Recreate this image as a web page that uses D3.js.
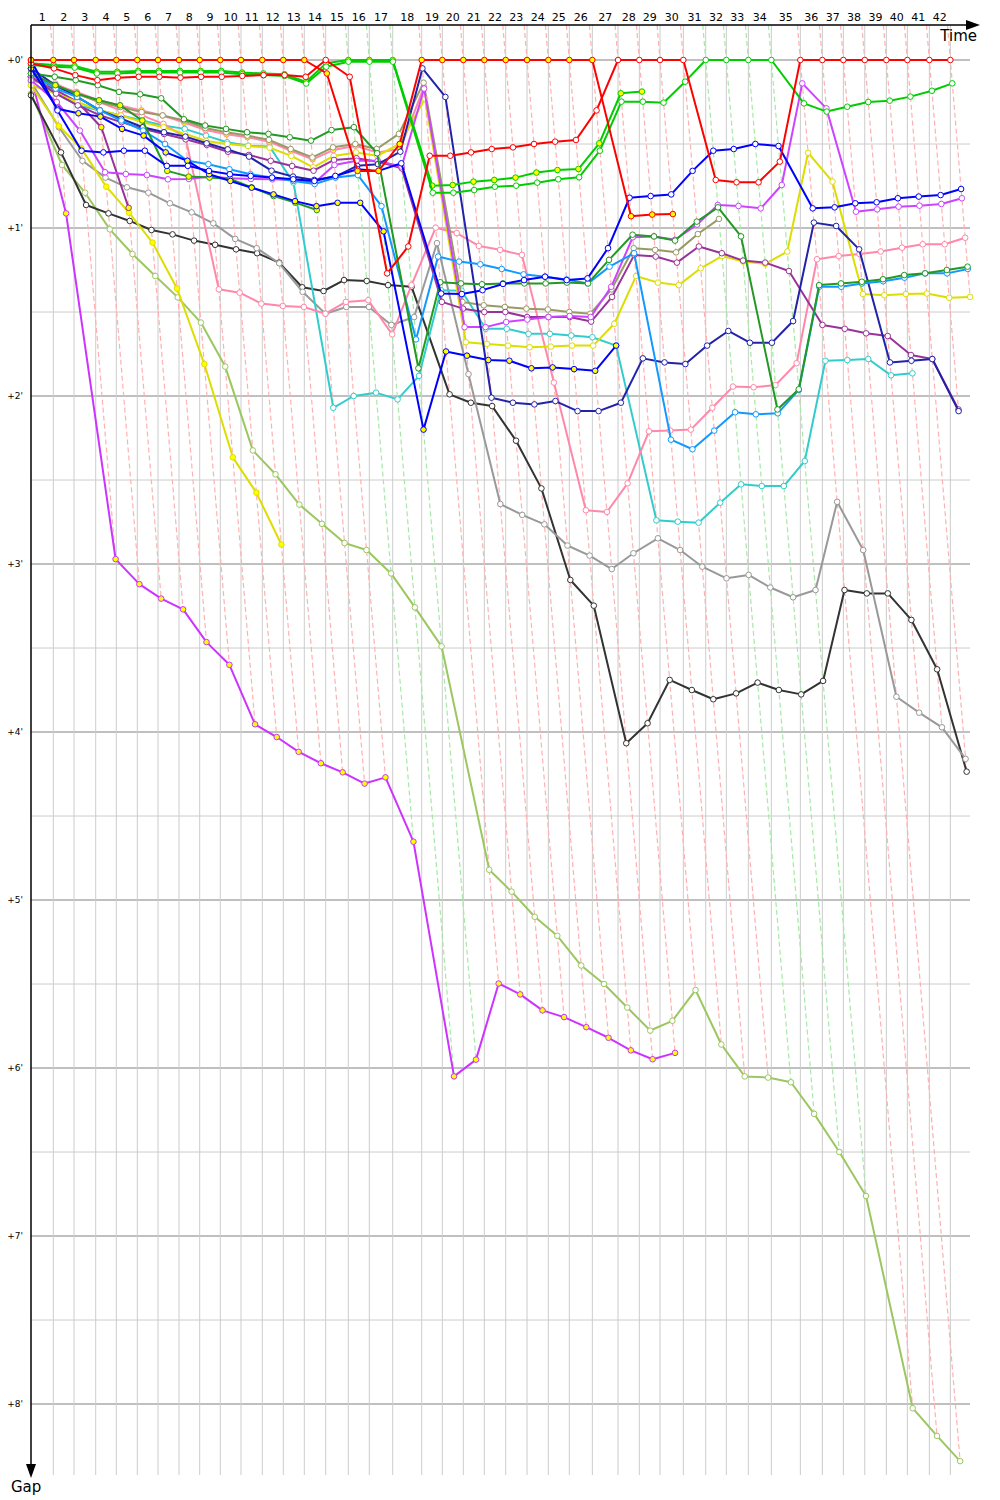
<!DOCTYPE html>
<html>
<head>
<meta charset="utf-8">
<script src="https://cdn.jsdelivr.net/npm/d3@7"></script>
<style>body{margin:0;background:#fff}</style>
</head>
<body>
<div id="viz"></div>
<script>
// leader lap durations in seconds (lap 1..42)
const lapSec = [95.6, 88.7, 93.0, 88.3, 90.0, 88.7, 90.0, 88.7, 88.3, 88.7, 91.3, 90.0, 90.0, 91.7,
  96.9, 90.0, 100.3, 124.3, 88.3, 90.0, 90.0, 91.7, 91.3, 91.3, 90.0, 98.6, 110.1, 91.3, 88.7,
  99.9, 96.0, 88.3, 94.3, 98.6, 124.3, 94.3, 90.0, 91.7, 92.6, 90.0, 94.3, 90.0];

const gapTicks = [0, 1, 2, 3, 4, 5, 6, 7, 8];

// gap to leader in minutes, index = lap (0 = start)
const redA = [0, 0,0,0,0,0,0,0,0,0,0,0,0,0, 0.08, 0.66,0.66,0.5, 0,0,0,0,0,0,0,0,0, 0.93,0.92,0.917];
const redB = [0.02, 0.05,0.09,0.12,0.105,0.1,0.1,0.105,0.1,0.1,0.095,0.09,0.09,0.1, 0, 0.1,1.27,1.11,
  0.57,0.57,0.55,0.53,0.52,0.50,0.486,0.476,0.30, 0,0,0,0, 0.714,0.728,0.728,0.605, 0,0,0,0,0,0,0,0];
const greenA = [0.02, 0.03,0.035,0.07,0.07,0.065,0.065,0.065,0.065,0.065,0.075,0.08,0.085,0.13, 0.02, 0,0,0,
  0.748,0.744,0.724,0.714,0.70,0.67,0.655,0.649,0.496, 0.198,0.188];
const greenB = [0.03, 0.04,0.045,0.08,0.08,0.075,0.075,0.075,0.075,0.075,0.085,0.09,0.095,0.14, 0.04, 0.01,0.01,0.01,
  0.79,0.79,0.774,0.754,0.748,0.73,0.71,0.698,0.54, 0.248,0.248,0.254,0.129, 0,0,0,0,
  0.258,0.307,0.278,0.25,0.242,0.218,0.183,0.139];
const darkGreenW = [0.08, 0.1,0.12,0.15,0.19,0.204,0.228,0.353,0.39,0.41,0.43,0.44,0.46,0.48, 0.417, 0.40,0.555,1.835,
  1.323,1.33,1.335,1.33,1.33,1.33,1.325,1.33,1.19, 1.04,1.05,1.075,0.962, 0.877,1.05,2.08,1.96,
  1.34,1.33,1.32,1.305,1.28,1.27,1.25,1.23];
const darkGreenY = [0.08, 0.15,0.2,0.24,0.27,0.36,0.66,0.694,0.7,0.708,0.758,0.81,0.849,0.893];
const blueW = [0, 0.3,0.54,0.55,0.54,0.54,0.63,0.63,0.66,0.68,0.69,0.70,0.71,0.72, 0.69, 0.65,0.66,0.615,
  1.39,1.393,1.37,1.333,1.31,1.29,1.31,1.30,1.12, 0.82,0.81,0.80,0.66, 0.54,0.53,0.50,0.512,
  0.883,0.877,0.853,0.847,0.823,0.813,0.804,0.768];
const blueY = [0.05, 0.29,0.317,0.337,0.41,0.45,0.55,0.6,0.68,0.72,0.76,0.8,0.84,0.87, 0.85, 0.85,1.02,2.2,
  1.735,1.76,1.786,1.79,1.835,1.83,1.84,1.85,1.70];
const navy = [0.05, 0.15,0.22,0.3,0.35,0.4,0.43,0.456,0.496,0.532,0.575,0.659,0.694,0.714, 0.694, 0.63,0.62,0.546,
  0.05,0.22,2.01,2.04,2.05,2.03,2.09,2.09,2.04, 1.776,1.8,1.81,1.70, 1.613,1.683,1.683,1.554,
  0.968,0.988,1.127,1.8,1.79,1.78,2.09];
const dodger = [0.08, 0.17,0.22,0.3,0.36,0.42,0.5,0.6,0.62,0.65,0.68,0.7,0.72,0.738, 0.7, 0.685,0.87,1.663,
  1.17,1.2,1.216,1.244,1.276,1.29,1.306,1.33,1.23, 1.15,2.26,2.317,2.206, 2.097,2.109,2.103,1.964,
  1.35,1.35,1.33,1.317,1.296,1.27,1.27,1.244];
const cyan = [0.1, 0.2,0.27,0.3,0.33,0.36,0.39,0.41,0.45,0.49,0.51,0.515,0.73,2.07, 2.0, 1.98,2.02,1.88,
  1.37,1.373,1.6,1.6,1.63,1.63,1.64,1.65,1.70, 2.74,2.748,2.754,2.635, 2.526,2.536,2.536,2.387,
  1.79,1.786,1.78,1.877,1.865];
const pinkW = [0.1, 0.14,0.2,0.25,0.3,0.33,0.38,0.46,1.365,1.385,1.45,1.464,1.47,1.51, 1.44, 1.43,1.633,1.34,
  0.998,1.03,1.107,1.13,1.16,1.92,2.68,2.69,2.52, 2.21,2.206,2.2,2.07, 1.944,1.948,1.935,1.805,
  1.186,1.167,1.155,1.14,1.117,1.097,1.097,1.058];
const pinkY = [0.1, 0.15,0.19,0.24,0.27,0.3,0.33,0.373,0.417,0.442,0.46,0.486,0.54,0.591, 0.536, 0.51,0.55,0.53, 0.16];
const magentaW = [0.12, 0.25,0.42,0.668,0.679,0.685,0.71,0.708,0.694,0.704,0.708,0.71,0.714,0.73, 0.625, 0.6,0.6,0.635,
  0.17,1.59,1.59,1.56,1.545,1.53,1.524,1.53,1.35, 1.055,1.05,1.07,0.98, 0.863,0.869,0.883,0.744,
  0.139,0.288,0.903,0.889,0.873,0.867,0.857,0.823];
const magentaY = [0.1, 0.913,2.971,3.12,3.206,3.27,3.465,3.6,3.954,4.03,4.118,4.186,4.24,4.307, 4.27, 4.653,6.05,5.95,
  5.497,5.562,5.657,5.697,5.757,5.82,5.895,5.948,5.91];
const purpleW = [0.1, 0.2,0.27,0.33,0.37,0.41,0.44,0.472,0.506,0.546,0.565,0.6,0.631,0.659, 0.595, 0.585,0.605,0.645,
  1.44,1.48,1.5,1.5,1.53,1.53,1.53,1.557,1.41, 1.16,1.17,1.206,1.11, 1.15,1.194,1.206,1.256,
  1.577,1.6,1.627,1.643,1.756,1.78,2.08];
const purpleY = [0.1, 0.18,0.25,0.4,0.88];
const oliveW = [0.12, 0.16,0.2,0.25,0.28,0.31,0.33,0.36,0.405,0.43,0.45,0.475,0.53,0.58, 0.52, 0.5,0.53,0.44,
  0.135,1.44,1.46,1.47,1.48,1.485,1.5,1.51,1.365, 1.12,1.13,1.145,1.036, 0.946];
const yellowW = [0.15, 0.2,0.25,0.3,0.33,0.37,0.4,0.44,0.482,0.5,0.512,0.522,0.571,0.639, 0.571, 0.55,0.57,0.5,
  0.23,1.68,1.69,1.70,1.71,1.706,1.70,1.70,1.57, 1.286,1.325,1.34,1.24, 1.167,1.2,1.214,1.14,
  0.552,0.724,1.393,1.4,1.393,1.39,1.415,1.41];
const yellowY = [0.15, 0.393,0.526,0.754,0.909,1.087,1.36,1.81,2.365,2.575,2.884];
const grayW = [0.13, 0.4,0.6,0.70,0.758,0.79,0.853,0.907,0.972,1.065,1.12,1.21,1.38,1.51, 1.47, 1.47,1.577,1.53,
  1.09,1.87,2.643,2.708,2.764,2.89,2.95,3.03,2.936, 2.847,2.917,3.016,3.085, 3.065,3.14,3.198,3.155,
  2.63,2.917,3.79,3.885,3.972,4.16];
const blackW = [0.21, 0.55,0.863,0.913,0.958,1.012,1.038,1.075,1.1,1.127,1.15,1.206,1.353,1.375, 1.31, 1.315,1.34,1.35,
  1.99,2.04,2.06,2.266,2.55,3.095,3.248,4.067,3.948, 3.69,3.75,3.805,3.77, 3.706,3.75,3.776,3.696,
  3.155,3.175,3.175,3.333,3.627,4.236];
const limeW = [0.2, 0.625,0.79,1.008,1.155,1.286,1.413,1.563,1.825,2.324,2.466,2.646,2.761,2.875, 2.917, 3.056,3.258,3.49,
  4.82,4.95,5.1,5.213,5.39,5.5,5.64,5.777,5.719, 5.536,5.86,6.05,6.057, 6.085,6.273,6.5,6.762,
  8.025,8.19,8.34];

// series table (drawing order)
const cars = [
  {gaps: limeW, color: "#9cc760", fill: "#fff", team: "other"},
  {gaps: magentaY, color: "#cc33ff", fill: "#ffff00", team: "other"},
  {gaps: blackW, color: "#333333", fill: "#fff", team: "other"},
  {gaps: grayW, color: "#999999", fill: "#fff", team: "other"},
  {gaps: yellowY, color: "#dddd00", fill: "#ffff00", team: "other"},
  {gaps: purpleY, color: "#993399", fill: "#ffff00", team: "other"},
  {gaps: cyan, color: "#33cccc", fill: "#fff", team: "other"},
  {gaps: pinkW, color: "#ff88aa", fill: "#fff", team: "other"},
  {gaps: pinkY, color: "#ff88aa", fill: "#ffff00", team: "other"},
  {gaps: oliveW, color: "#999966", fill: "#fff", team: "other"},
  {gaps: yellowW, color: "#dddd00", fill: "#fff", team: "other"},
  {gaps: purpleW, color: "#993399", fill: "#fff", team: "other"},
  {gaps: magentaW, color: "#cc44ff", fill: "#fff", team: "other"},
  {gaps: navy, color: "#2222aa", fill: "#fff", team: "other"},
  {gaps: dodger, color: "#1199ff", fill: "#fff", team: "other"},
  {gaps: darkGreenY, color: "#229922", fill: "#ffff00", team: "other"},
  {gaps: darkGreenW, color: "#229922", fill: "#fff", team: "other"},
  {gaps: blueY, color: "#0000ff", fill: "#ffff00", team: "other"},
  {gaps: blueW, color: "#0000ff", fill: "#fff", team: "other"},
  {gaps: greenA, color: "#00cc00", fill: "#ffff00", team: "green"},
  {gaps: greenB, color: "#00cc00", fill: "#fff", team: "green"},
  {gaps: redB, color: "#ff0000", fill: "#fff", team: "red"},
  {gaps: redA, color: "#ff0000", fill: "#ffff00", team: "red"}
];

const width = 1000, height = 1500;
const plotTop = 25, plotBottom = 1475, plotRight = 970;

const svg = d3.select("#viz")
  .append("svg")
    .attr("width", width)
    .attr("height", height)
    .style("font-family", "DejaVu Sans, sans-serif");

// x = elapsed time in minutes, y = gap in minutes
const x = d3.scaleLinear().domain([0, 67]).range([31, 31 + 14 * 67]);
const y = d3.scaleLinear().domain([0, 8]).range([60, 1404]);

// leader lap end times
const lapEnd = [0];
lapSec.forEach((s, i) => lapEnd.push(lapEnd[i] + s / 60));
const laps = d3.range(1, lapSec.length + 1);

// horizontal grid
svg.append("g").selectAll("line")
  .data(d3.range(0, 8.01, 0.5))
  .join("line")
    .attr("x1", x(0)).attr("x2", plotRight)
    .attr("y1", d => y(d)).attr("y2", d => y(d))
    .attr("stroke", d => d % 1 === 0 ? "#808080" : "#cccccc")
    .attr("stroke-width", 1);

// vertical grid at leader lap ends
svg.append("g").selectAll("line")
  .data(laps)
  .join("line")
    .attr("x1", d => x(lapEnd[d])).attr("x2", d => x(lapEnd[d]))
    .attr("y1", plotTop).attr("y2", plotBottom)
    .attr("stroke", "#cccccc")
    .attr("stroke-width", 1);

// same-lap lines (dashed), coloured by lap leader
const gTop = y.invert(plotTop);
const lapLines = laps.map(n => {
  const on = cars.filter(c => c.gaps[n] !== undefined);
  const lead = on.reduce((a, b) => b.gaps[n] < a.gaps[n] ? b : a);
  return {n, max: d3.max(on, c => c.gaps[n]), team: lead.team};
});
svg.append("g").selectAll("line")
  .data(lapLines)
  .join("line")
    .attr("x1", d => x(lapEnd[d.n] + gTop)).attr("y1", plotTop)
    .attr("x2", d => x(lapEnd[d.n] + d.max)).attr("y2", d => y(d.max))
    .attr("stroke", d => d.team === "green" ? "#a6e8a6" : "#ffb0b0")
    .attr("stroke-width", 1.2)
    .attr("stroke-dasharray", "5,3");

// gap labels
svg.append("g").selectAll("text")
  .data(gapTicks)
  .join("text")
    .attr("x", 23).attr("y", d => y(d))
    .attr("dy", "0.35em")
    .attr("text-anchor", "end")
    .attr("font-size", 9)
    .text(d => "+" + d + "'");

// lap labels, centred in each lap
svg.append("g").selectAll("text")
  .data(laps)
  .join("text")
    .attr("x", d => x((lapEnd[d - 1] + lapEnd[d]) / 2))
    .attr("y", 21)
    .attr("text-anchor", "middle")
    .attr("font-size", 11)
    .text(d => d);

// cars: point for lap i sits at leader time of lap i plus the gap (start grid on the axis)
const pt = (c) => c.gaps.map((g, i) => ({x: x(i === 0 ? 0 : lapEnd[i] + g), y: y(g)}));

const line = d3.line().x(d => d.x).y(d => d.y);
cars.forEach(c => {
  const pts = pt(c);
  const g = svg.append("g");
  g.append("path")
    .datum(pts)
    .attr("fill", "none")
    .attr("stroke", c.color)
    .attr("stroke-width", 2)
    .attr("stroke-linejoin", "round")
    .attr("d", line);
  g.selectAll("circle")
    .data(pts)
    .join("circle")
      .attr("cx", d => d.x).attr("cy", d => d.y)
      .attr("r", 2.8)
      .attr("fill", c.fill)
      .attr("stroke", c.color)
      .attr("stroke-width", 1);
});

// axes with arrows
svg.append("line")
  .attr("x1", x(0)).attr("x2", 968)
  .attr("y1", plotTop).attr("y2", plotTop)
  .attr("stroke", "#000").attr("stroke-width", 1.5);
svg.append("path")
  .attr("d", "M966,20 L980,25 L966,30 Z")
  .attr("fill", "#000");
svg.append("line")
  .attr("x1", x(0)).attr("x2", x(0))
  .attr("y1", plotTop).attr("y2", 1466)
  .attr("stroke", "#000").attr("stroke-width", 1.5);
svg.append("path")
  .attr("d", `M${x(0) - 5},1464 L${x(0)},1478 L${x(0) + 5},1464 Z`)
  .attr("fill", "#000");

svg.append("text")
  .attr("x", 977).attr("y", 41)
  .attr("text-anchor", "end")
  .attr("font-size", 15)
  .text("Time");
svg.append("text")
  .attr("x", 11).attr("y", 1492)
  .attr("font-size", 15)
  .text("Gap");
</script>
</body>
</html>
